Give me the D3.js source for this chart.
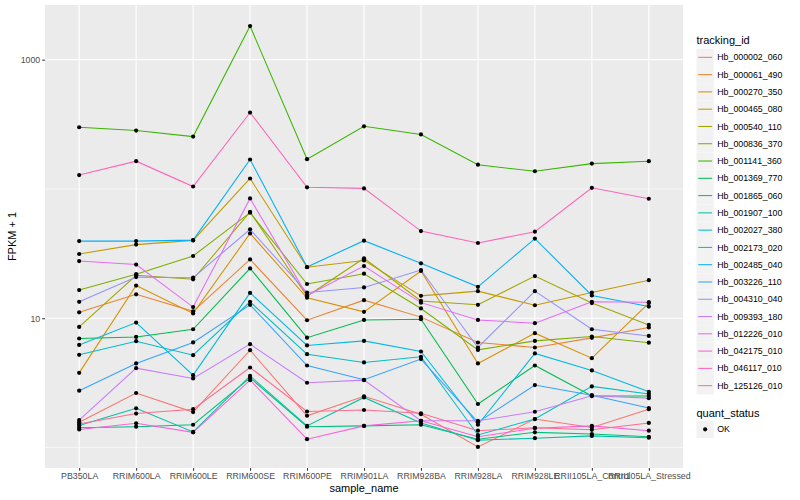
<!DOCTYPE html>
<html>
<head>
<meta charset="utf-8">
<script src="https://cdn.jsdelivr.net/npm/d3@7"></script>
<style>
  body { margin: 0; background: #fff; }
  text { font-family: "Liberation Sans", Arial, sans-serif; }
</style>
</head>
<body>
<svg id="chart" width="800" height="500"></svg>
<script>
// categories on x
const samples = ["PB350LA", "RRIM600LA", "RRIM600LE", "RRIM600SE", "RRIM600PE", "RRIM901LA",
  "RRIM928BA", "RRIM928LA", "RRIM928LE", "RRII105LA_Control", "RRII105LA_Stressed"]

const trackingIds = ["Hb_000002_060", "Hb_000061_490", "Hb_000270_350", "Hb_000465_080", "Hb_000540_110",
  "Hb_000836_370", "Hb_001141_360", "Hb_001369_770", "Hb_001865_060", "Hb_001907_100",
  "Hb_002027_380", "Hb_002173_020", "Hb_002485_040", "Hb_003226_110", "Hb_004310_040",
  "Hb_009393_180", "Hb_012226_010", "Hb_042175_010", "Hb_046117_010", "Hb_125126_010"]

// ggplot hue palette, 20 levels
const hueColors = ["#F8766D", "#EA8331", "#D89000", "#C09B00", "#A3A500", "#7CAE00", "#39B600", "#00BB4E",
  "#00BF7D", "#00C1A3", "#00BFC4", "#00BAE0", "#00B0F6", "#35A2FF", "#9590FF", "#C77CFF",
  "#E76BF3", "#FA62DB", "#FF62BC", "#FF6C91"]

// FPKM + 1 per sample
const hb000002_060 = [1.57, 2.64, 1.88, 5.66, 1.76, 2.49, 1.81, 1.01, 1.66, 1.43, 1.98]
const hb000061_490 = [11.1, 15.3, 11.3, 28.5, 9.65, 13.8, 10.2, 6.49, 5.94, 7.05, 8.48]
const hb000270_350 = [3.78, 17.9, 10.9, 45.3, 14.4, 11.2, 23.2, 4.47, 7.66, 4.91, 13.1]
const hb000465_080 = [31.4, 37.1, 40.0, 120.5, 24.8, 28.0, 14.9, 16.2, 12.6, 15.8, 19.7]
const hb000540_110 = [8.57, 21.5, 20.0, 66.4, 14.8, 29.1, 13.6, 12.7, 21.2, 13.1, 8.88]
const hb000836_370 = [16.5, 21.9, 30.3, 65.5, 18.4, 22.1, 11.9, 5.69, 6.68, 7.22, 6.47]
const hb001141_360 = [300, 283, 254, 1820, 170, 305, 264, 154, 137, 157, 164]
const hb001369_770 = [6.97, 7.17, 8.22, 24.3, 7.07, 9.70, 9.82, 2.17, 4.31, 2.50, 2.50]
const hb001865_060 = [1.42, 1.45, 1.50, 3.46, 1.45, 1.47, 1.50, 1.16, 1.31, 1.27, 1.21]
const hb001907_100 = [1.48, 2.01, 1.32, 3.58, 1.47, 2.44, 1.55, 1.14, 1.18, 1.23, 1.19]
const hb002027_380 = [5.21, 6.64, 5.18, 13.4, 5.27, 4.55, 5.03, 1.25, 1.66, 2.97, 2.59]
const hb002173_020 = [6.22, 9.26, 3.63, 15.7, 6.16, 6.68, 5.53, 1.50, 5.34, 3.95, 2.70]
const hb002485_040 = [39.5, 39.5, 40.2, 169, 24.9, 39.8, 26.6, 17.5, 41.3, 15.0, 12.3]
const hb003226_110 = [2.75, 4.47, 6.50, 12.7, 4.31, 3.34, 4.83, 1.57, 3.04, 2.54, 2.02]
const hb004310_040 = [13.4, 20.8, 20.6, 48.7, 15.8, 17.3, 23.6, 5.94, 16.2, 8.22, 7.30]
const hb009393_180 = [1.63, 4.11, 3.42, 6.30, 3.17, 3.32, 1.61, 1.61, 1.89, 2.51, 2.41]
const hb012226_010 = [27.7, 26.0, 12.2, 84.5, 15.0, 25.3, 13.2, 9.70, 9.15, 13.4, 13.3]
const hb042175_010 = [1.38, 1.54, 1.31, 3.32, 1.16, 1.47, 1.61, 1.21, 1.41, 1.47, 1.35]
const hb046117_010 = [128, 164, 104.5, 390, 103, 101, 47.2, 38.2, 46.7, 102, 84.0]
const hb125126_010 = [1.52, 1.83, 1.98, 4.16, 1.90, 1.95, 1.84, 1.35, 1.42, 1.37, 1.55]

const yTicks = [10, 1000]
const yMinor = [1, 100]
const quantStatus = ["OK"]

const seriesValues = [hb000002_060, hb000061_490, hb000270_350, hb000465_080, hb000540_110,
  hb000836_370, hb001141_360, hb001369_770, hb001865_060, hb001907_100,
  hb002027_380, hb002173_020, hb002485_040, hb003226_110, hb004310_040,
  hb009393_180, hb012226_010, hb042175_010, hb046117_010, hb125126_010]

const series = trackingIds.map((id, i) => ({
  id: id,
  color: hueColors[i],
  points: samples.map((s, j) => ({sample: s, value: seriesValues[i][j]}))
}))

const svg = d3.select("#chart")
const panel = {left: 45, top: 5, right: 683, bottom: 468}

// log scale with ggplot-like 5% expansion
const allVals = seriesValues.flat()
const logExt = d3.extent(allVals).map(Math.log10)
const pad = (logExt[1] - logExt[0]) * 0.05
const y = d3.scaleLog()
  .domain([Math.pow(10, logExt[0] - pad), Math.pow(10, logExt[1] + pad)])
  .range([panel.bottom, panel.top])

const x = d3.scalePoint()
  .domain(samples)
  .range([panel.left, panel.right])
  .padding(0.6)

// panel background
svg.append("rect")
  .attr("x", panel.left).attr("y", panel.top)
  .attr("width", panel.right - panel.left).attr("height", panel.bottom - panel.top)
  .attr("fill", "#EBEBEB")

const grid = svg.append("g")
grid.selectAll(".minor").data(yMinor).join("line")
  .attr("x1", panel.left).attr("x2", panel.right)
  .attr("y1", d => y(d)).attr("y2", d => y(d))
  .attr("stroke", "#fff").attr("stroke-width", 0.55)
grid.selectAll(".majorY").data(yTicks).join("line")
  .attr("x1", panel.left).attr("x2", panel.right)
  .attr("y1", d => y(d)).attr("y2", d => y(d))
  .attr("stroke", "#fff").attr("stroke-width", 1.1)
grid.selectAll(".majorX").data(samples).join("line")
  .attr("x1", d => x(d)).attr("x2", d => x(d))
  .attr("y1", panel.top).attr("y2", panel.bottom)
  .attr("stroke", "#fff").attr("stroke-width", 1.1)

// lines
const line = d3.line()
  .x(d => x(d.sample))
  .y(d => y(d.value))

svg.append("g").selectAll("path").data(series).join("path")
  .attr("d", d => line(d.points))
  .attr("fill", "none")
  .attr("stroke", d => d.color)
  .attr("stroke-width", 1.05)

// points
svg.append("g").selectAll("g").data(series).join("g")
  .selectAll("circle").data(d => d.points).join("circle")
  .attr("cx", d => x(d.sample))
  .attr("cy", d => y(d.value))
  .attr("r", 2.1)
  .attr("fill", "#000")

// axes
const yAxis = svg.append("g")
  .attr("transform", `translate(${panel.left},0)`)
  .call(d3.axisLeft(y).tickValues(yTicks).tickFormat(d3.format("d")).tickSize(2.75).tickPadding(2))
const xAxis = svg.append("g")
  .attr("transform", `translate(0,${panel.bottom})`)
  .call(d3.axisBottom(x).tickSize(2.75).tickPadding(2.5))

for (const ax of [yAxis, xAxis]) {
  ax.select(".domain").remove()
  ax.selectAll(".tick line").attr("stroke", "#333").attr("stroke-width", 1.05)
  ax.selectAll(".tick text").attr("fill", "#4D4D4D").style("font-size", "8.8px")
}

svg.append("text")
  .attr("x", (panel.left + panel.right) / 2).attr("y", 492)
  .attr("text-anchor", "middle").style("font-size", "11px")
  .text("sample_name")

svg.append("text")
  .attr("transform", `translate(16,${(panel.top + panel.bottom) / 2}) rotate(-90)`)
  .attr("text-anchor", "middle").style("font-size", "11px")
  .text("FPKM + 1")

// legend: tracking_id
const legX = 696.5, keySize = 17.28
const leg = svg.append("g")
leg.append("text").attr("x", legX).attr("y", 44).style("font-size", "11px").text("tracking_id")

const items = leg.selectAll("g.item").data(series).join("g")
  .attr("transform", (d, i) => `translate(${legX},${48.7 + i * keySize})`)
items.append("rect").attr("width", keySize).attr("height", keySize).attr("fill", "#F2F2F2")
items.append("line")
  .attr("x1", 1.7).attr("x2", keySize - 1.7)
  .attr("y1", keySize / 2).attr("y2", keySize / 2)
  .attr("stroke", d => d.color).attr("stroke-width", 1.05)
items.append("text")
  .attr("x", keySize + 3.5).attr("y", keySize / 2 + 3.1)
  .style("font-size", "8.8px")
  .text(d => d.id)

// legend: quant_status
leg.append("text").attr("x", legX).attr("y", 416.5).style("font-size", "11px").text("quant_status")
const qItems = leg.selectAll("g.q").data(quantStatus).join("g")
  .attr("transform", (d, i) => `translate(${legX},${420.7 + i * keySize})`)
qItems.append("rect").attr("width", keySize).attr("height", keySize).attr("fill", "#F2F2F2")
qItems.append("circle").attr("cx", keySize / 2).attr("cy", keySize / 2).attr("r", 2.1).attr("fill", "#000")
qItems.append("text")
  .attr("x", keySize + 3.5).attr("y", keySize / 2 + 3.1)
  .style("font-size", "8.8px")
  .text(d => d)
</script>
</body>
</html>
